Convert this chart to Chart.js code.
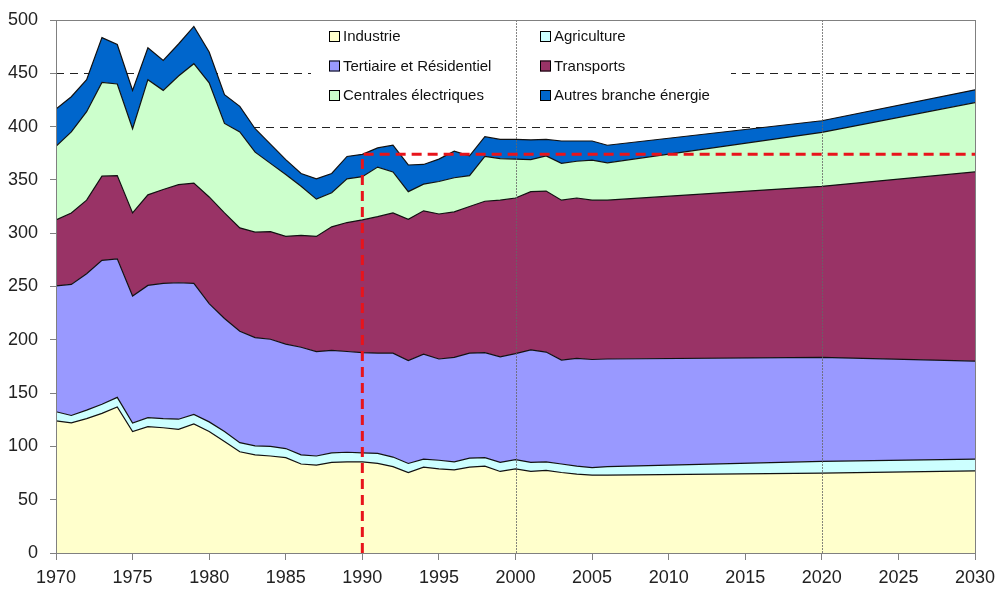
<!DOCTYPE html>
<html lang="fr">
<head>
<meta charset="UTF-8">
<title>Emissions par secteur</title>
<script src="https://cdn.jsdelivr.net/npm/chart.js"></script>
<style>
  html, body { margin: 0; padding: 0; background: #fff; }
  #wrap { width: 997px; height: 590px; position: relative; }
</style>
</head>
<body>
<div id="wrap"><canvas id="chart"></canvas></div>
<script>
// Years (annual history, then projection points)
const years = [1970,1971,1972,1973,1974,1975,1976,1977,1978,1979,
               1980,1981,1982,1983,1984,1985,1986,1987,1988,1989,
               1990,1991,1992,1993,1994,1995,1996,1997,1998,1999,
               2000,2001,2002,2003,2004,2005,2006,2020,2030];

// Values per sector
const industrie = [124,122,126,131,137,114,118.5,117.5,116,121,
                   114,104.5,95,92,91,89.5,83.5,82.5,85,85.5,
                   85.5,84,81,75.5,80.5,79,78,80.5,81.5,76.5,
                   79,76.5,77.5,75.5,74,73,73,75,77];
const agriculture = [8.5,7,8,8.5,9,8,8.5,8.5,9.5,9,
                     9,9.5,8.5,8.5,9,8.5,8.5,8.5,9,9,
                     8.5,9.5,9,8.5,7.5,8,7.5,8.5,8,8.5,
                     8.5,8.5,8,8,7.5,7,8,11,11];
const tertiaire = [118,123,128,135,130,119,124,127,128,123,
                   111,106,104.5,101.5,100.5,98,101,98,96,94.5,
                   94,94,97.5,96.5,98.5,95,98,98.5,98.5,99,
                   99.5,105.5,103,97.5,101,101.5,101,97.5,92];
const transports = [62,67,69,79,78,78,85,88,92,94,
                    100,99,97,99,101,101,105,108,116,121,
                    124.5,128,131.5,132.5,134.5,136,136.5,137.5,142,147,
                    146,148.5,151,150,150.5,149.5,149,160.5,177.5];
const centrales = [69,76,83,88,86,79,108,93,102,112,
                   107,84,90,75,64,58,46,35,32,41,
                   40.5,46.5,38.5,26,25,30.5,32,29,42,39,
                   36.5,30,33,34.5,34.5,37.5,35,50.5,65];
const autres = [35,33,30,42,37,36,30,28,30,35,
                29,27,24,22,18,14,12,19,18,21,
                21,18,25,25,18.5,21,25,18.5,18.5,18,
                18.5,18.5,15.5,21,19,18,16.5,11,12];

const seriesNames = ["Industrie", "Agriculture", "Tertiaire et Résidentiel",
                     "Transports", "Centrales électriques", "Autres branche énergie"];
const seriesColors = ["#FFFFCC", "#CCFFFF", "#9999FF", "#993366", "#CCFFCC", "#0066CC"];
const seriesValues = [industrie, agriculture, tertiaire, transports, centrales, autres];

// Reference lines
const blackDashLevels = [450, 400];
const greyYearLines = [2000, 2020];
const refYear = 1990;
const refLevel = 374;

const FONT = "'Liberation Sans', Arial, sans-serif";

const datasets = seriesValues.map((vals, i) => ({
    label: seriesNames[i],
    data: years.map((yr, j) => ({ x: yr, y: vals[j] })),
    backgroundColor: seriesColors[i],
    borderColor: "#111",
    borderWidth: 1.2,
    pointRadius: 0,
    tension: 0,
    fill: i === 0 ? "origin" : "-1"
}));

// Dashed guide lines, legend box, reference lines and frame
const decorations = {
    id: "decorations",
    beforeDatasetsDraw(chart) {
        const { ctx, chartArea: a, scales: { y } } = chart;
        ctx.save();
        ctx.strokeStyle = "#222";
        ctx.lineWidth = 1;
        ctx.setLineDash([8, 6]);
        blackDashLevels.forEach(v => {
            const py = Math.round(y.getPixelForValue(v)) + 0.5;
            ctx.beginPath();
            ctx.moveTo(a.left, py);
            ctx.lineTo(a.right, py);
            ctx.stroke();
        });
        // white legend background hides part of the 450 line
        ctx.fillStyle = "#fff";
        ctx.fillRect(311, 22, 420, 84);
        ctx.restore();
    },
    afterDatasetsDraw(chart) {
        const { ctx, chartArea: a, scales: { x, y } } = chart;
        ctx.save();

        // legend entries, two columns
        ctx.font = "15px " + FONT;
        ctx.textBaseline = "middle";
        chart.data.datasets.forEach((ds, i) => {
            const col = i % 2, row = Math.floor(i / 2);
            const bx = col === 0 ? 329 : 540;
            const by = 37 + row * 29.5;
            ctx.fillStyle = ds.backgroundColor;
            ctx.fillRect(bx, by - 6, 11, 11);
            ctx.strokeStyle = "#000";
            ctx.lineWidth = 1;
            ctx.setLineDash([]);
            ctx.strokeRect(bx + 0.5, by - 5.5, 10, 10);
            ctx.fillStyle = "#111";
            ctx.fillText(ds.label, bx + 14, by);
        });

        // thin vertical year lines
        ctx.strokeStyle = "#666";
        ctx.lineWidth = 0.8;
        ctx.setLineDash([2, 1]);
        greyYearLines.forEach(v => {
            const px = Math.round(x.getPixelForValue(v)) + 0.5;
            ctx.beginPath();
            ctx.moveTo(px, a.top);
            ctx.lineTo(px, a.bottom);
            ctx.stroke();
        });

        // red reference lines
        const rx = x.getPixelForValue(refYear);
        const ry = y.getPixelForValue(refLevel);
        ctx.strokeStyle = "#E8141B";
        ctx.lineWidth = 3;
        ctx.setLineDash([10, 6]);
        ctx.beginPath();
        ctx.moveTo(rx, a.bottom);
        ctx.lineTo(rx, ry);
        ctx.lineTo(a.right, ry);
        ctx.stroke();

        // plot frame
        ctx.setLineDash([]);
        ctx.strokeStyle = "#808080";
        ctx.lineWidth = 1;
        ctx.strokeRect(Math.round(a.left) + 0.5, Math.round(a.top) + 0.5,
                       Math.round(a.right - a.left), Math.round(a.bottom - a.top));
        ctx.restore();
    }
};

new Chart(document.getElementById("chart"), {
    type: "line",
    data: { datasets },
    options: {
        responsive: true,
        maintainAspectRatio: false,
        animation: false,
        layout: { padding: { top: 20, right: 22, left: 0, bottom: 0 } },
        plugins: {
            legend: { display: false },
            tooltip: { enabled: false }
        },
        scales: {
            x: {
                type: "linear",
                min: 1970,
                max: 2030,
                ticks: {
                    stepSize: 5,
                    color: "#222",
                    font: { family: FONT, size: 18 },
                    padding: 7,
                    maxRotation: 0,
                    callback: v => String(v)
                },
                grid: { drawOnChartArea: false, tickLength: 7, color: "#808080" },
                border: { color: "#808080" },
                afterFit: s => {
                    s.height = 37;
                    s.paddingLeft = 0;
                    s.paddingRight = 0;
                }
            },
            y: {
                stacked: true,
                min: 0,
                max: 500,
                ticks: {
                    stepSize: 50,
                    color: "#222",
                    font: { family: FONT, size: 18 },
                    padding: 12
                },
                grid: { drawOnChartArea: false, tickLength: 6, color: "#808080" },
                border: { color: "#808080" },
                afterFit: s => {
                    s.width = 56;
                    s.paddingTop = 0;
                    s.paddingBottom = 0;
                }
            }
        }
    },
    plugins: [decorations]
});
</script>
</body>
</html>
